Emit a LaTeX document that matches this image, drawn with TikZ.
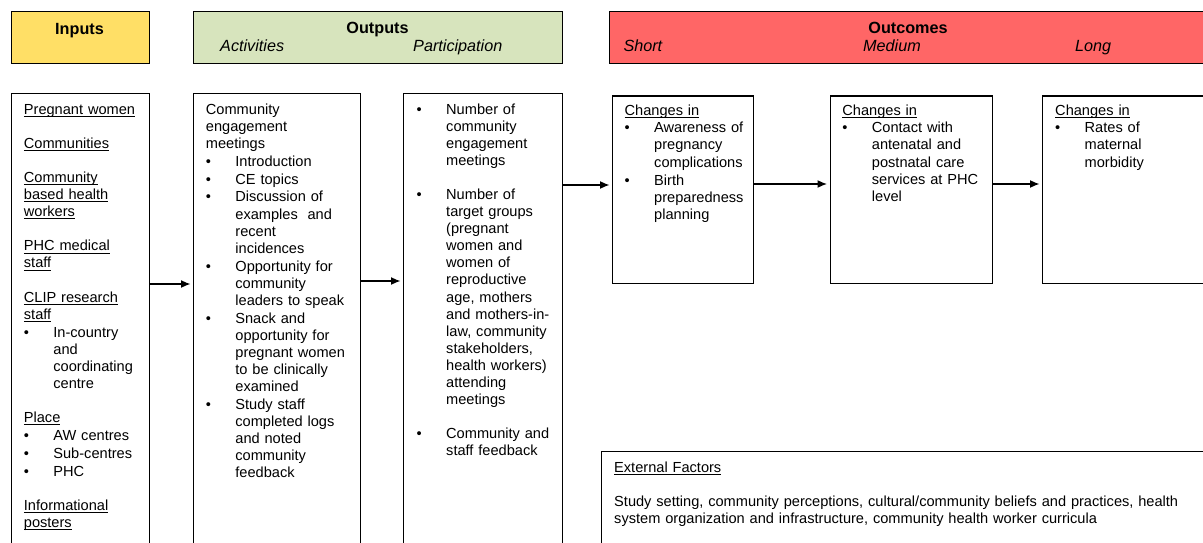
\documentclass[tikz,border=0pt]{standalone}
\usepackage{fontspec}
\setmainfont{Liberation Sans}
\usetikzlibrary{arrows.meta}
\definecolor{inyellow}{HTML}{FFDF66}
\definecolor{outgreen}{HTML}{D7E4BD}
\definecolor{outred}{HTML}{FF6666}
\setlength{\parindent}{0pt}
\newcommand{\uln}[1]{\leavevmode\setbox0\hbox{#1}\rlap{\rule[-2.6pt]{\wd0}{0.9pt}}\box0}
\newcommand{\bodyfont}{\fontsize{14.6}{17.1}\selectfont}
\newcommand{\headfont}{\fontsize{16.2}{19}\selectfont}
\newcommand{\bfirst}[1]{\noindent\hangindent=29.5pt\hangafter=1\makebox[29.5pt][l]{\textbullet}#1\par}
\newcommand{\bitem}[1]{\par\vspace{0.8pt}\bfirst{#1}}
\newcommand{\gap}{\par\vspace{\baselineskip}}
\tikzset{
  head/.style={draw, line width=1.2pt, anchor=north west, inner sep=0pt, minimum height=52pt},
  frame/.style={draw, line width=1.2pt, anchor=north west, inner sep=0pt},
  title/.style={font=\headfont, inner sep=0pt},
  body/.style={anchor=base west, inner sep=0pt, text width=#1, align=left, font=\bodyfont},
  body/.default=200pt,
  arr/.style={-{Latex[length=9.5pt,width=8pt]}, line width=1.3pt, shorten >=2.5pt}
}
\begin{document}
\begin{tikzpicture}[x=1pt,y=-1pt]
\useasboundingbox (0,0) rectangle (1203,543);
% header boxes
\node[head, fill=inyellow, minimum width=137.5pt] (inhead) at (11,11) {};
\node[head, fill=outgreen, minimum width=369pt] (outhead) at (193,11) {};
\node[head, fill=outred, minimum width=610pt] (ochead) at (609,11) {};
\node[title, anchor=base] (intitle) at (79.5,34.3) {\bfseries Inputs};
\node[title, anchor=base] (outtitle) at (377.5,33.5) {\bfseries Outputs};
\node[title, anchor=base west] (acttitle) at (220,51.7) {\itshape Activities};
\node[title, anchor=base west] (parttitle) at (413,51.7) {\itshape Participation};
\node[title, anchor=base] (octitle) at (908,33.5) {\bfseries Outcomes};
\node[title, anchor=base west] (shorttitle) at (623.3,51.7) {\itshape Short};
\node[title, anchor=base west] (medtitle) at (863,51.7) {\itshape Medium};
\node[title, anchor=base west] (longtitle) at (1075,51.7) {\itshape Long};
% body boxes
\node[frame, minimum width=138pt, minimum height=470pt] (inbox) at (11,93) {};
\node[frame, minimum width=167pt, minimum height=470pt] (actbox) at (193,93) {};
\node[frame, minimum width=159pt, minimum height=470pt] (partbox) at (403,93) {};
\node[frame, minimum width=141pt, minimum height=187pt] (shortbox) at (612,95.5) {};
\node[frame, minimum width=162pt, minimum height=187pt] (medbox) at (829.5,95.5) {};
\node[frame, minimum width=170pt, minimum height=187pt] (longbox) at (1042,95.5) {};
\node[frame, minimum width=610pt, minimum height=110pt] (extbox) at (601,451) {};
% texts
\node[body] (intext) at ([xshift=12.7pt,yshift=-21pt]inbox.north west) {%
\uln{Pregnant women}\gap
\uln{Communities}\gap
\uln{Community}\newline\uln{based health}\newline\uln{workers}\gap
\uln{PHC medical}\newline\uln{staff}\gap
\uln{CLIP research}\newline\uln{staff}
\bitem{In-country\newline and\newline coordinating\newline centre}\gap
\uln{Place}
\bitem{AW centres}
\bitem{Sub-centres}
\bitem{PHC}\gap
\uln{Informational}\newline\uln{posters}};
\node[body] (acttext) at ([xshift=12.7pt,yshift=-21pt]actbox.north west) {%
Community\newline engagement\newline meetings
\bitem{Introduction}
\bitem{CE topics}
\bitem{Discussion of\newline examples\ \ and\newline recent\newline incidences}
\bitem{Opportunity for\newline community\newline leaders to speak}
\bitem{Snack and\newline opportunity for\newline pregnant women\newline to be clinically\newline examined}
\bitem{Study staff\newline completed logs\newline and noted\newline community\newline feedback}};
\node[body] (parttext) at ([xshift=13.5pt,yshift=-21pt]partbox.north west) {%
\bfirst{Number of\newline community\newline engagement\newline meetings}\gap
\bfirst{Number of\newline target groups\newline (pregnant\newline women and\newline women of\newline reproductive\newline age, mothers\newline and mothers-in-\newline law, community\newline stakeholders,\newline health workers)\newline attending\newline meetings}\gap
\bfirst{Community and\newline staff feedback}};
\node[body] (shorttext) at ([xshift=12.5pt,yshift=-19.5pt]shortbox.north west) {%
\uln{Changes in}
\bitem{Awareness of\newline pregnancy\newline complications}
\bitem{Birth\newline preparedness\newline planning}};
\node[body] (medtext) at ([xshift=12.7pt,yshift=-19.5pt]medbox.north west) {%
\uln{Changes in}
\bitem{Contact with\newline antenatal and\newline postnatal care\newline services at PHC\newline level}};
\node[body] (longtext) at ([xshift=13pt,yshift=-19.5pt]longbox.north west) {%
\uln{Changes in}
\bitem{Rates of\newline maternal\newline morbidity}};
\node[body=590pt] (exttext) at ([xshift=13pt,yshift=-21pt]extbox.north west) {%
\uln{External Factors}\gap
Study setting, community perceptions, cultural/community beliefs and practices, health\newline system organization and infrastructure, community health worker curricula};
% arrows
\coordinate (rowA) at (0,284);
\coordinate (rowB) at (0,281);
\coordinate (rowC) at (0,185);
\coordinate (rowD) at (0,184);
\draw[arr] (inbox.east |- rowA) -- (actbox.west |- rowA);
\draw[arr] (actbox.east |- rowB) -- (partbox.west |- rowB);
\draw[arr] (partbox.east |- rowC) -- (shortbox.west |- rowC);
\draw[arr] (shortbox.east |- rowD) -- (medbox.west |- rowD);
\draw[arr] (medbox.east |- rowD) -- (longbox.west |- rowD);
\end{tikzpicture}
\end{document}
